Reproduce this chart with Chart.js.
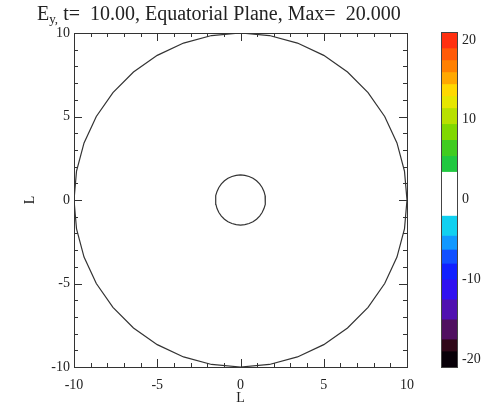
<!DOCTYPE html>
<html>
<head>
<meta charset="utf-8">
<script src="https://cdn.jsdelivr.net/npm/chart.js@4/dist/chart.umd.min.js"></script>
<style>
  html, body { margin: 0; padding: 0; background: #fff; }
  #wrap { position: relative; width: 492px; height: 407px; overflow: hidden; }
  #main { position: absolute; left: 0; top: 0; }
  #bar { position: absolute; left: 430px; top: 0; }
  #title {
    position: absolute; left: 37px; top: 1px;
    font-family: "Liberation Serif", "DejaVu Serif", serif;
    font-size: 20px; color: #222; white-space: pre; line-height: 24px;
  }
  #title sub { font-size: 13px; vertical-align: -3px; line-height: 0; }
</style>
</head>
<body>
<div id="wrap">
  <canvas id="main" width="492" height="407"></canvas>
  <canvas id="bar" width="62" height="407"></canvas>
  <div id="title">E<sub>y,</sub> t=  10.00, Equatorial Plane, Max=  20.000</div>
</div>
<script>
// Plot extent (in L) and tick labels
const axisMin = -10;
const axisMax = 10;
const axisLabelValues = [-10, -5, 0, 5, 10];

// Circle outlines drawn in the equatorial plane (radii in L)
const circleRadii = [10, 1.5];
const circleSegments = 36;

// Colour scale: level edges (top to bottom) and the colour of each band
const cbEdges = [21, 19, 17.5, 16, 14.5, 13, 11.5, 9.5, 7.5, 5.5, 3.5, -2, -4.5, -6.25, -8, -10, -12.5, -15, -17.5, -19, -21];
const cbColors = ['#ff3010', '#ff5a08', '#ff8000', '#ffa800', '#ffd800', '#e6e600', '#b8e000', '#80d800',
                  '#40cc20', '#20c840', '#ffffff', '#10d0f0', '#1098ff', '#1050ff', '#1020ff', '#3010f0',
                  '#5010b0', '#501060', '#300818', '#080008'];
const cbTicks = [-20, -10, 0, 10, 20];

const serif = '"Liberation Serif", "DejaVu Serif", serif';
const ink = '#222';

function outline(r) {
  const pts = [];
  for (let i = 0; i <= circleSegments; i++) {
    const a = (i / circleSegments) * 2 * Math.PI;
    pts.push({ x: r * Math.sin(a), y: r * Math.cos(a) });
  }
  return pts;
}

// Inward major/minor tick marks on all four sides plus the frame
const innerTicks = {
  id: 'innerTicks',
  afterDraw(chart) {
    const { ctx, chartArea: a, scales: { x, y } } = chart;
    ctx.save();
    ctx.strokeStyle = '#333';
    ctx.lineWidth = 1;
    ctx.beginPath();
    x.ticks.forEach(t => {
      const px = Math.round(x.getPixelForValue(t.value)) + 0.5;
      const len = t.value % 5 === 0 ? 8 : 4;
      ctx.moveTo(px, a.bottom); ctx.lineTo(px, a.bottom - len);
      ctx.moveTo(px, a.top); ctx.lineTo(px, a.top + len);
    });
    y.ticks.forEach(t => {
      const py = Math.round(y.getPixelForValue(t.value)) + 0.5;
      const len = t.value % 5 === 0 ? 8 : 4;
      ctx.moveTo(a.left, py); ctx.lineTo(a.left + len, py);
      ctx.moveTo(a.right, py); ctx.lineTo(a.right - len, py);
    });
    ctx.stroke();
    ctx.strokeRect(Math.round(a.left) + 0.5, Math.round(a.top) + 0.5,
                   Math.round(a.right - a.left), Math.round(a.bottom - a.top));
    ctx.restore();
  }
};

function axisOpts(pos) {
  return {
    type: 'linear', position: pos, min: axisMin, max: axisMax,
    grid: { display: false, drawTicks: false },
    border: { display: false },
    ticks: {
      stepSize: 1, autoSkip: false, maxRotation: 0,
      padding: pos === 'bottom' ? 10 : 4,
      color: ink, font: { family: serif, size: 14 },
      callback: v => (axisLabelValues.includes(v) ? String(v) : '')
    },
    title: {
      display: true, text: 'L', color: ink,
      font: { family: serif, size: 14 },
      padding: pos === 'bottom' ? { top: 0, bottom: 0 } : { top: 22, bottom: 0 }
    },
    afterFit(s) {
      if (pos === 'bottom') s.height = 40; else s.width = 74;
    }
  };
}

new Chart(document.getElementById('main'), {
  type: 'scatter',
  data: {
    datasets: circleRadii.map(r => ({
      data: outline(r),
      showLine: true,
      pointRadius: 0,
      borderColor: '#333',
      borderWidth: 1.2,
      fill: false
    }))
  },
  options: {
    responsive: false,
    animation: false,
    events: [],
    layout: { padding: { left: 0, top: 33, right: 85, bottom: 0 } },
    plugins: { legend: { display: false }, tooltip: { enabled: false } },
    scales: { x: axisOpts('bottom'), y: axisOpts('left') }
  },
  plugins: [innerTicks]
});

// Colour bar: one floating bar per colour band, stacked in a single column
const barFrame = {
  id: 'barFrame',
  afterDraw(chart) {
    const { ctx, chartArea: a } = chart;
    ctx.save();
    ctx.strokeStyle = '#444';
    ctx.lineWidth = 1;
    ctx.strokeRect(Math.round(a.left) + 0.5, Math.round(a.top) + 0.5,
                   Math.round(a.right - a.left) - 1, Math.round(a.bottom - a.top));
    ctx.restore();
  }
};

new Chart(document.getElementById('bar'), {
  type: 'bar',
  data: {
    labels: [''],
    datasets: cbColors.map((c, i) => ({
      data: [[cbEdges[i + 1], cbEdges[i]]],
      backgroundColor: c,
      borderWidth: 0,
      grouped: false,
      barPercentage: 1,
      categoryPercentage: 1
    }))
  },
  options: {
    responsive: false,
    animation: false,
    events: [],
    layout: { padding: { left: 11, top: 32, right: 0, bottom: 40 } },
    plugins: { legend: { display: false }, tooltip: { enabled: false } },
    scales: {
      x: { display: false },
      y: {
        position: 'right', min: -21, max: 21,
        afterBuildTicks(s) { s.ticks = cbTicks.map(v => ({ value: v })); },
        grid: { display: false, drawTicks: false },
        border: { display: false },
        ticks: { padding: 4, color: ink, font: { family: serif, size: 14 } },
        afterFit(s) { s.width = 34; }
      }
    }
  },
  plugins: [barFrame]
});
</script>
</body>
</html>
